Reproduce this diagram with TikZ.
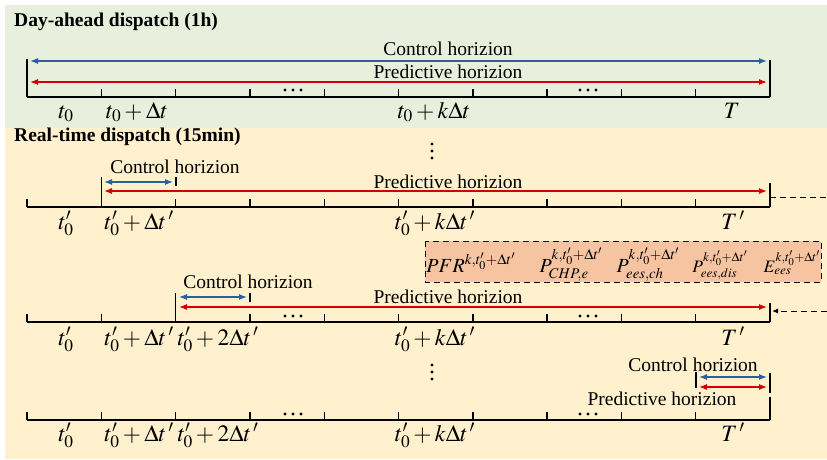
\documentclass[tikz,border=0pt]{standalone}
\usepackage{mathptmx}
\usepackage[no-math]{fontspec}
\setmainfont{Liberation Serif}
\usetikzlibrary{arrows.meta}
\definecolor{bggreen}{HTML}{E9EFDD}
\definecolor{bgorange}{HTML}{FFF1CD}
\definecolor{boxfill}{HTML}{F6C4A0}
\definecolor{ctrlblue}{HTML}{2C5F9E}
\definecolor{predred}{HTML}{D40000}
\begin{document}
\begin{tikzpicture}[x=1pt,y=-1pt,
  axis/.style={line width=1.4pt,black},
  ctrl/.style={line width=1.2pt,ctrlblue,{Latex[length=8pt,width=6pt]}-{Latex[length=8pt,width=6pt]}},
  pred/.style={line width=1.2pt,predred,{Latex[length=8pt,width=6pt]}-{Latex[length=8pt,width=6pt]}},
  lbl/.style={font=\fontsize{19.5}{22}\selectfont,inner sep=0pt},
  mth/.style={font=\fontsize{23.5}{26}\selectfont,inner sep=0pt,anchor=base},
  fml/.style={font=\fontsize{20}{22}\selectfont,inner sep=0pt,anchor=base},
  fmls/.style={font=\fontsize{17.5}{20}\selectfont,inner sep=0pt,anchor=base},
  ttl/.style={font=\fontsize{19.5}{22}\selectfont\bfseries,inner sep=0pt,anchor=west},
  dotc/.style={fill=black,circle,inner sep=0pt,minimum size=3.3pt}]
\useasboundingbox (0,0) rectangle (827,459);
\fill[bgorange] (5,128) rectangle (827,459);
\fill[bggreen] (5,5) rectangle (827,128);

\foreach \r/\yy in {d/97,a/207,b/322,c/420}{
  \foreach \i in {0,...,10}{\coordinate (\r\i) at ({27+74.3*\i},\yy);}
}
% horizontal "..." groups
\foreach \n/\xx/\yy in {dA/293/90,dB/588/90,bA/293/316,bB/588/316,cA/293/414,cB/588/414}{
  \foreach \k in {-1,0,1}{\node[dotc] at ({\xx+8*\k},\yy) {};}
}
% vertical dots
\foreach \yy in {144,151,158,365,372,379}{\node[dotc] at (432,\yy) {};}

% ---------- Day-ahead ----------
\node[ttl] (t1) at (14,22) {Day-ahead dispatch (1h)};
\draw[axis] (d0) -- (d10);
\foreach \i in {1,...,9}{\draw[axis] (d\i) -- ++(0,-8);}
\draw[axis] (d0) -- ++(0,-38);
\draw[axis] (d10) -- ++(0,-37);
\coordinate (dcl) at (30,61); \coordinate (dcr) at (767,61);
\coordinate (dpl) at (30,82); \coordinate (dpr) at (767,82);
\draw[ctrl] (dcl) -- (dcr);
\draw[pred] (dpl) -- (dpr);
\node[lbl] (dct) at (448,49) {Control horizion};
\node[lbl] (dpt) at (448,72) {Predictive horizion};
\node[mth] (dl1) at (66,118) {$t_0$};
\node[mth] (dl2) at (137,118) {$t_0+\Delta t$};
\node[mth] (dl3) at (434,118) {$t_0+k\Delta t$};
\node[mth] (dl4) at (732,118) {$T$};

% ---------- Real-time ----------
\node[ttl] (t2) at (14,137) {Real-time dispatch (15min)};

% row 1
\draw[axis] (a0) -- (a10);
\foreach \i in {0,2,3,...,9}{\draw[axis] (a\i) -- ++(0,-8);}
\draw[axis] (a1) -- ++(0,-30);
\draw[axis] (a10) -- ++(0,-24);
\draw[axis] (176,177) -- (176,186);
\coordinate (acl) at (104,182); \coordinate (acr) at (173,182);
\coordinate (apl) at (104,191); \coordinate (apr) at (767,191);
\draw[ctrl] (acl) -- (acr);
\draw[pred] (apl) -- (apr);
\node[lbl] (act) at (175,167) {Control horizion};
\node[lbl] (apt) at (448,182) {Predictive horizion};
\coordinate (ads) at (770,197); \coordinate (ade) at (827,197);
\draw[line width=1pt,dash pattern=on 6pt off 4pt] (ads) -- (ade);
\node[mth] (al1) at (66,229) {$t'_0$};
\node[mth] (al2) at (139,229) {$t'_0+\Delta t^{\,\prime}$};
\node[mth] (al3) at (435,229) {$t'_0+k\Delta t^{\,\prime}$};
\node[mth] (al4) at (733,229) {$T^{\,\prime}$};

% box
\draw[fill=boxfill,line width=1pt,dash pattern=on 6pt off 4pt] (425,241) rectangle (821,282);
\node[fml] (f1) at (471,272) {$PFR^{k,t'_0+\Delta t'}$};
\node[fml] (f2) at (571,272) {$P^{k,t'_0+\Delta t'}_{CHP,e}$};
\node[fml] (f3) at (648,272) {$P^{k,t'_0+\Delta t'}_{ees,ch}$};
\node[fmls] (f4) at (720,272) {$P^{k,t'_0+\Delta t'}_{ees,dis}$};
\node[fmls] (f5) at (792,272) {$E^{k,t'_0+\Delta t'}_{ees}$};

% row 2
\draw[axis] (b0) -- (b10);
\foreach \i in {0,1,3,4,...,9}{\draw[axis] (b\i) -- ++(0,-8);}
\draw[axis] (b2) -- ++(0,-29);
\draw[axis] (b10) -- ++(0,-19);
\draw[axis] (250,293) -- (250,302);
\coordinate (bcl) at (179,297); \coordinate (bcr) at (247,297);
\coordinate (bpl) at (179,307); \coordinate (bpr) at (767,307);
\draw[ctrl] (bcl) -- (bcr);
\draw[pred] (bpl) -- (bpr);
\node[lbl] (bct) at (248,282) {Control horizion};
\node[lbl] (bpt) at (448,297) {Predictive horizion};
\coordinate (bas) at (827,311); \coordinate (bae) at (772,311);
\draw[line width=1pt,dash pattern=on 6pt off 4pt,-{Latex[length=6pt,width=5pt]}] (bas) -- (bae);
\node[mth] (bl1) at (66,345) {$t'_0$};
\node[mth] (bl2) at (139,345) {$t'_0+\Delta t^{\,\prime}$};
\node[mth] (bl3) at (218,345) {$t'_0+2\Delta t^{\,\prime}$};
\node[mth] (bl4) at (435,345) {$t'_0+k\Delta t^{\,\prime}$};
\node[mth] (bl5) at (733,345) {$T^{\,\prime}$};

% row 3
\draw[axis] (c0) -- (c10);
\foreach \i in {0,...,9}{\draw[axis] (c\i) -- ++(0,-8);}
\draw[axis] (c10) -- ++(0,-23);
\draw[axis] (696,372) -- (696,388);
\draw[axis] (770,373) -- (770,393);
\coordinate (ccl) at (699,377); \coordinate (ccr) at (767,377);
\coordinate (cpl) at (699,387); \coordinate (cpr) at (767,387);
\draw[ctrl] (ccl) -- (ccr);
\draw[pred] (cpl) -- (cpr);
\node[lbl] (cct) at (693,365) {Control horizion};
\node[lbl] (cpt) at (662,399) {Predictive horizion};
\node[mth] (cl1) at (66,441) {$t'_0$};
\node[mth] (cl2) at (139,441) {$t'_0+\Delta t^{\,\prime}$};
\node[mth] (cl3) at (218,441) {$t'_0+2\Delta t^{\,\prime}$};
\node[mth] (cl4) at (435,441) {$t'_0+k\Delta t^{\,\prime}$};
\node[mth] (cl5) at (733,441) {$T^{\,\prime}$};
\end{tikzpicture}
\end{document}
